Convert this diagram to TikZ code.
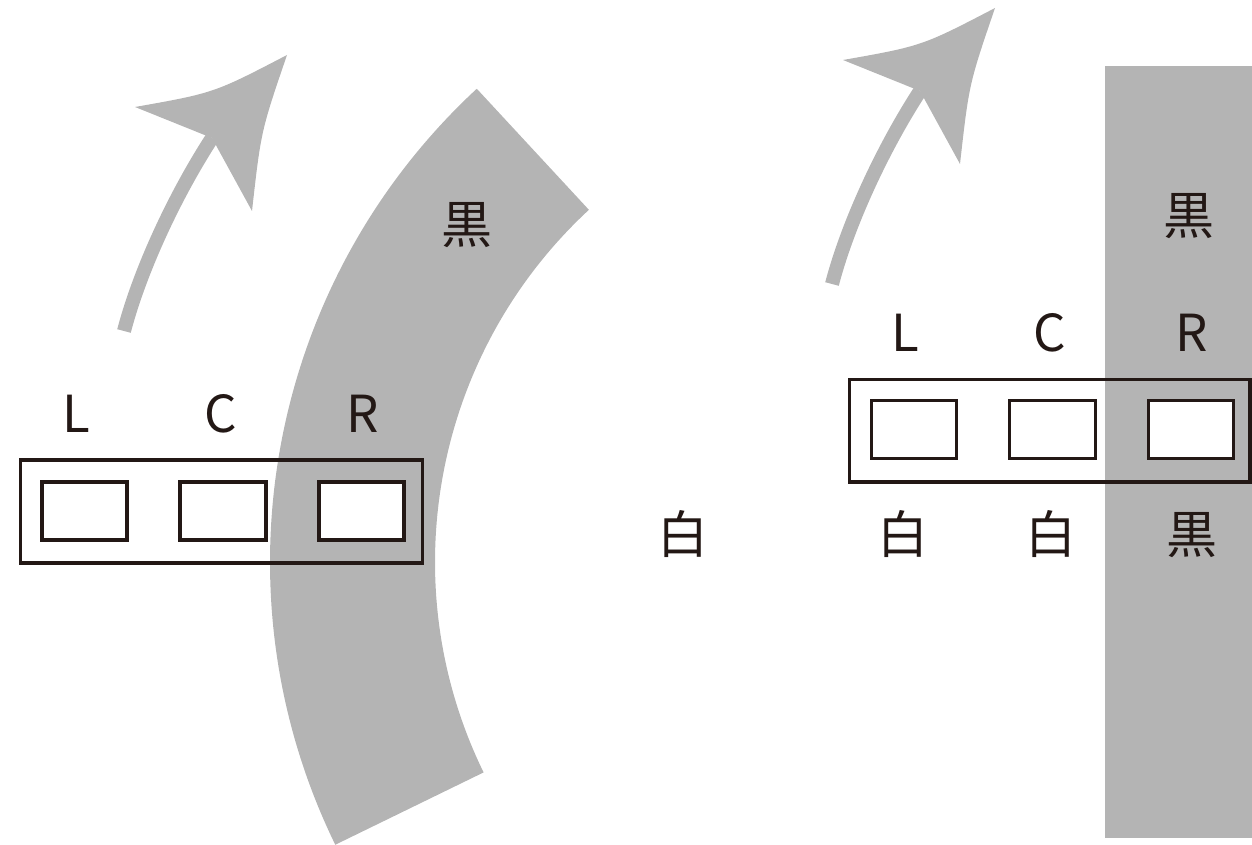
\documentclass[tikz,border=0pt]{standalone}
\usepackage{fontspec}
\setmainfont{Noto Sans CJK JP}
\usetikzlibrary{calc}
\definecolor{bandgray}{RGB}{180,180,180}
\definecolor{inkblack}{HTML}{231815}
\begin{document}
\begin{tikzpicture}[x=1pt,y=1pt,
  lbl/.style={font=\fontsize{51}{60}\selectfont, text=inkblack, inner sep=0pt},
  latinlbl/.style={lbl, anchor=base},
  cjklbl/.style={lbl, anchor=center},
  frame/.style={draw=inkblack, line width=3.3pt},
  cell/.style={draw=inkblack, line width=3.3pt, fill=white},
  shaft/.style={draw=bandgray, line width=14pt},
  head/.style={fill=bandgray}]
\useasboundingbox (0,0) rectangle (1252,844);

% ---- left: curved black band ----
\coordinate (c) at (915,282);
\fill[bandgray] ($(c)+(132.8:645)$) arc[start angle=132.8, end angle=206, radius=645]
  -- ($(c)+(206:480)$) arc[start angle=206, end angle=132.8, radius=480] -- cycle;

% ---- right: straight black band ----
\fill[bandgray] (1105,6) rectangle (1252,778);

% ---- arrows ----
\foreach \dx/\dy in {0/0, 708/47}{
  \begin{scope}[shift={(\dx,\dy)}]
    \draw[shaft] (124,513) .. controls (140,574) and (175,649) .. (212,706);
    \fill[head] (135,737) .. controls (214,751) .. (287,789)
       .. controls (261,713) .. (252,633) -- (212,706) -- cycle;
  \end{scope}
}

% ---- left sensor bar ----
\draw[frame] (20.5,281) rectangle (422.5,384);
\draw[cell] (42,304) rectangle (127,362);
\draw[cell] (180,304) rectangle (266,362);
\draw[cell] (319,304) rectangle (404,362);
\node[latinlbl] (lL) at (76,411) {L};
\node[latinlbl] (lC) at (221,411) {C};
\node[latinlbl] (lR) at (363,411) {R};
\node[cjklbl] (lblack) at (467,619) {黒};
\node[cjklbl] (lwhite) at (683,310) {白};

% ---- right sensor bar ----
\draw[frame] (849.5,362) rectangle (1250,464.5);
\draw[cell] (871.5,385.5) rectangle (956.5,443.5);
\draw[cell] (1009.5,385.5) rectangle (1095.5,443.5);
\draw[cell] (1148.5,385.5) rectangle (1233.5,443.5);
\node[latinlbl] (rL) at (905,492) {L};
\node[latinlbl] (rC) at (1050,492) {C};
\node[latinlbl] (rR) at (1192,492) {R};
\node[cjklbl] (rtop) at (1189,628) {黒};
\node[cjklbl] (rw1) at (903,310) {白};
\node[cjklbl] (rw2) at (1051,310) {白};
\node[cjklbl] (rb) at (1192,309) {黒};
\end{tikzpicture}
\end{document}
